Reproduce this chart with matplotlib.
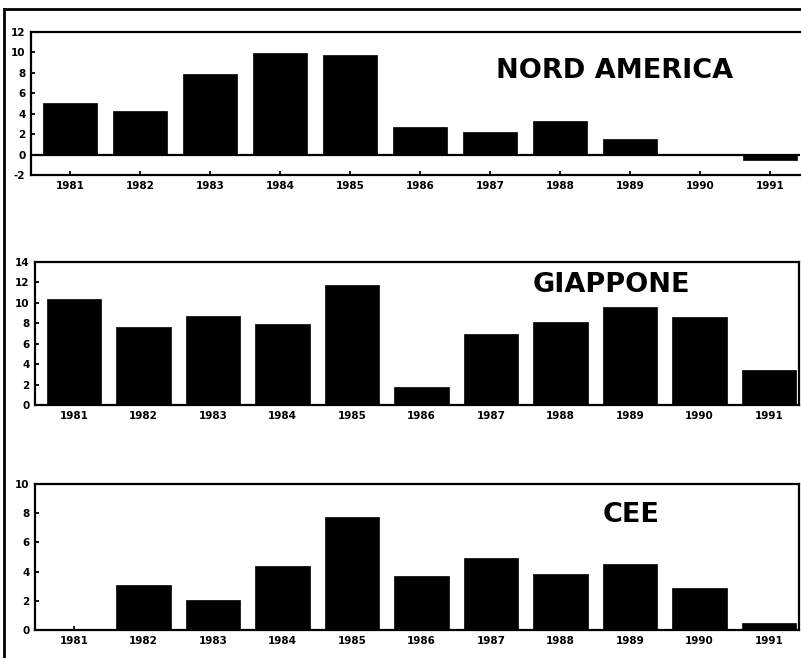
import matplotlib
matplotlib.use("Agg")
import matplotlib.pyplot as plt
from matplotlib.lines import Line2D

years = ['1981', '1982', '1983', '1984', '1985', '1986', '1987', '1988', '1989', '1990', '1991']
nord_america = [5.0, 4.3, 7.9, 9.9, 9.7, 2.7, 2.2, 3.3, 1.5, 0.05, -0.5]
giappone = [10.4, 7.6, 8.75, 7.9, 11.7, 1.8, 7.0, 8.1, 9.6, 8.65, 3.4]
cee = [0.0, 3.1, 2.05, 4.4, 7.75, 3.7, 4.9, 3.85, 4.55, 2.85, 0.5]

titles = ['NORD AMERICA', 'GIAPPONE', 'CEE']
ylims = [(-2, 12), (0, 14), (0, 10)]
yticks = [list(range(-2, 13, 2)), list(range(0, 15, 2)), list(range(0, 11, 2))]

plt.rcParams['font.family'] = ['DejaVu Sans']
plt.rcParams['axes.unicode_minus'] = False
fig = plt.figure(figsize=(8.01, 6.58), dpi=100)

W, H = 801, 658
boxes = [(31, 32, 800, 175), (35, 262, 799, 405), (35, 484, 799, 630)]
title_pos = [(0.759, 0.727), (0.754, 0.839), (0.780, 0.788)]
series = [nord_america, giappone, cee]

for i, (l, t, r, b) in enumerate(boxes):
    ax = fig.add_axes([l / W, 1 - b / H, (r - l) / W, (b - t) / H])
    x = list(range(len(years)))
    ax.bar(x, series[i], width=0.78, color='black', edgecolor='black', linewidth=0.5, zorder=2)
    ax.set_xlim(-0.56, 10.43)
    ax.set_ylim(*ylims[i])
    ax.set_yticks(yticks[i])
    ax.set_xticks(x)
    ax.set_xticklabels(years)
    for lab in ax.get_xticklabels() + ax.get_yticklabels():
        lab.set_fontweight('bold')
        lab.set_fontsize(7.5)
    ax.tick_params(axis='both', direction='in', length=3, width=1.3, pad=4)
    for s in ax.spines.values():
        s.set_linewidth(1.6)
    if i == 0:
        ax.spines['right'].set_visible(False)
        ax.axhline(0, color='black', linewidth=1.6, zorder=3)
    ax.text(title_pos[i][0], title_pos[i][1], titles[i], transform=ax.transAxes,
            ha='center', va='center', fontsize=19.5, fontweight='bold')

# outer frame lines of the page
fig.add_artist(Line2D([3.5 / W, 3.5 / W], [0, 1 - 9 / H], color='black', linewidth=2.0,
                      transform=fig.transFigure))
fig.add_artist(Line2D([3.5 / W, 1], [1 - 9 / H, 1 - 9 / H], color='black', linewidth=2.0,
                      transform=fig.transFigure))

fig.savefig('out.png', dpi=100)
